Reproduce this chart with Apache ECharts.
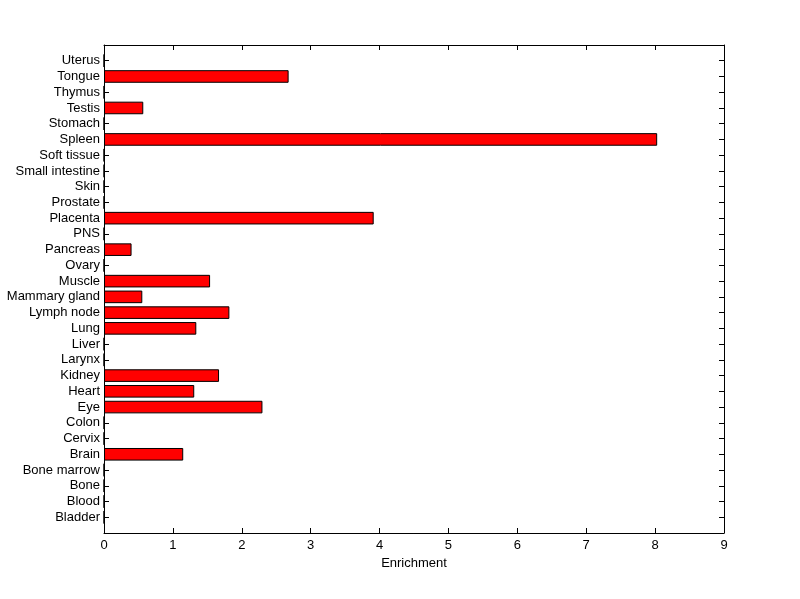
<!DOCTYPE html>
<html>
<head>
<meta charset="utf-8">
<script src="https://cdn.jsdelivr.net/npm/echarts@6/dist/echarts.min.js"></script>
<style>
  html, body { margin: 0; padding: 0; background: #fff; }
  #chart { width: 800px; height: 599px; }
</style>
</head>
<body>
<div id="chart"></div>
<script>
// tissues, bottom to top
const tissues = ['Bladder', 'Blood', 'Bone', 'Bone marrow', 'Brain', 'Cervix', 'Colon', 'Eye',
  'Heart', 'Kidney', 'Larynx', 'Liver', 'Lung', 'Lymph node', 'Mammary gland', 'Muscle',
  'Ovary', 'Pancreas', 'PNS', 'Placenta', 'Prostate', 'Skin', 'Small intestine',
  'Soft tissue', 'Spleen', 'Stomach', 'Testis', 'Thymus', 'Tongue', 'Uterus'];
const enrichment = [0, 0, 0, 0, 1.15, 0, 0, 2.30,
  1.31, 1.67, 0, 0, 1.34, 1.82, 0.556, 1.54,
  0, 0.40, 0, 3.915, 0, 0, 0,
  0, 8.03, 0, 0.57, 0, 2.68, 0];
const xTicks = [0, 9, 1];

// pad one empty slot at each end so the axis runs 0..31 like the original
const cats = [''].concat(tissues, ['']);
const vals = ['-'].concat(enrichment, ['-']);

const chart = echarts.init(document.getElementById('chart'));
const font = 'Liberation Sans, Arial, sans-serif';
const axisLine = { show: true, onZero: false, lineStyle: { color: '#000', width: 1 } };

chart.setOption({
  animation: false,
  backgroundColor: '#fff',
  grid: { left: 104, right: 76, top: 45, bottom: 66 },
  xAxis: [
    {
      type: 'value',
      min: xTicks[0],
      max: xTicks[1],
      interval: xTicks[2],
      position: 'bottom',
      name: 'Enrichment',
      nameLocation: 'middle',
      nameGap: 24,
      nameTextStyle: { color: '#000', fontSize: 13, fontFamily: font },
      axisLine: axisLine,
      axisTick: { show: true, inside: true, length: 5, lineStyle: { color: '#000' } },
      axisLabel: { color: '#000', fontSize: 13, fontFamily: font, margin: 6 },
      splitLine: { show: false },
    },
    {
      type: 'value',
      min: xTicks[0],
      max: xTicks[1],
      interval: xTicks[2],
      position: 'top',
      axisLine: axisLine,
      axisTick: { show: true, inside: true, length: 5, lineStyle: { color: '#000' } },
      axisLabel: { show: false },
      splitLine: { show: false },
    },
  ],
  yAxis: [
    {
      type: 'category',
      data: cats,
      boundaryGap: false,
      position: 'left',
      axisLine: axisLine,
      axisTick: { show: true, inside: true, length: 5, alignWithLabel: true, lineStyle: { color: '#000' } },
      axisLabel: { color: '#000', fontSize: 13, fontFamily: font, margin: 4, interval: 0 },
      splitLine: { show: false },
    },
    {
      type: 'category',
      data: cats,
      boundaryGap: false,
      position: 'right',
      axisLine: axisLine,
      axisTick: { show: true, inside: true, length: 5, lineStyle: { color: '#000' } },
      axisLabel: { show: false },
      splitLine: { show: false },
    },
  ],
  series: [
    {
      type: 'bar',
      xAxisIndex: 0,
      yAxisIndex: 0,
      barWidth: '80%',
      itemStyle: { color: '#ff0000', borderColor: '#000', borderWidth: 1 },
      data: vals,
    },
  ],
});
</script>
</body>
</html>
